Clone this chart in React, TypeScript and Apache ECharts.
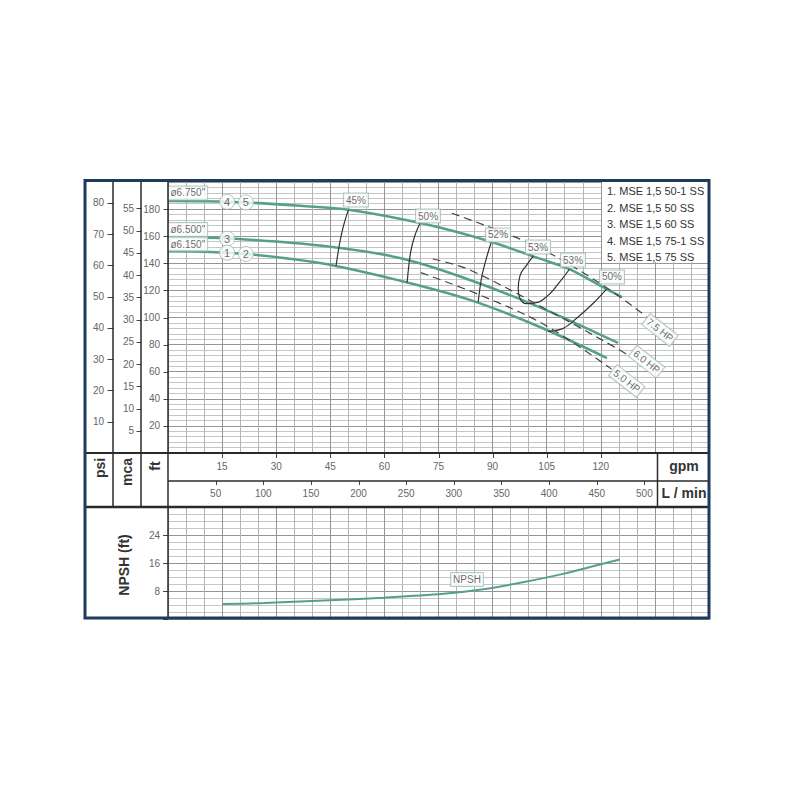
import React, { useEffect, useRef } from 'react';
import * as echarts from 'echarts';

const FONT = "'Liberation Sans', Arial, Helvetica, sans-serif";

// ---- axis ticks ----
const gpmTicks = [15, 30, 45, 60, 75, 90, 105, 120];
const lpmTicks = [50, 100, 150, 200, 250, 300, 350, 400, 450, 500];
const ftTicks = [20, 40, 60, 80, 100, 120, 140, 160, 180];
const mcaTicks = [5, 10, 15, 20, 25, 30, 35, 40, 45, 50, 55];
const psiTicks = [10, 20, 30, 40, 50, 60, 70, 80];
const npshTicks = [8, 16, 24];

// ---- ranges / unit conversions ----
const GPM_MAX = 150;
const FT_MAX = 200;
const NPSH_MAX = 32;
const LPM_PER_GPM = 3.78541;
const FT_PER_PSI = 2.30666;
const FT_PER_M = 3.28084;

// ---- head curves [gpm, ft] ----
const head675 = [[0, 186.0], [10, 185.8], [21.6, 184.9], [36.6, 182.4], [50.5, 179.4], [70.3, 169.5], [88.4, 156.8], [103.1, 143.4], [111.0, 136.0], [121.2, 121.5], [125.9, 115.1]];
const head650 = [[0, 159.4], [10, 158.9], [21.6, 157.6], [42.1, 153.1], [64.3, 143.9], [83.7, 127.7], [103.1, 107.5], [124.8, 81.2]];
const head615 = [[0, 149.1], [10, 148.6], [21.6, 146.9], [42.1, 140.2], [64.3, 127.2], [83.7, 113.0], [103.1, 93.0], [121.7, 70.1]];

// ---- efficiency iso-lines [gpm, ft] ----
const eff45 = [[50.0, 179.4], [48.6, 167.0], [47.5, 153.5], [46.6, 138.0]];
const eff50a = [[69.9, 169.8], [68.5, 160.9], [67.3, 148.6], [66.3, 125.8]];
const eff52 = [[89.6, 155.2], [88.4, 144.9], [87.0, 130.1], [86.0, 111.5]];
const eff53 = [[101.3, 145.5], [99.4, 138.5], [97.6, 130.9], [97.1, 121.2], [97.6, 114.0], [99.4, 110.2], [101.8, 110.8], [105.0, 115.4], [108.3, 125.2], [111.3, 135.6]];
const eff50b = [[121.6, 121.0], [117.9, 110.5], [113.3, 99.4], [109.6, 92.0], [105.4, 89.8]];

// ---- power lines [gpm, ft] ----
const hp75 = [[78.7, 176.9], [101.3, 153.5], [119.8, 125.2], [132.7, 100.6]];
const hp60 = [[73.4, 143.2], [83.7, 135.1], [107.8, 101.8], [124.4, 77.3], [127.5, 72.3]];
const hp50 = [[70.1, 133.1], [86.5, 116.6], [104.5, 94.5], [123.0, 61.9]];

// ---- NPSH [gpm, ft] ----
const npsh = [[15, 4.3], [26.6, 4.6], [43.2, 5.3], [59.8, 6.1], [76.4, 7.2], [87.4, 8.5], [98.4, 10.5], [109.5, 12.9], [120.6, 15.8], [125.3, 17.0]];

// ---- annotations ----
const effTagNames = ['45%', '50%', '52%', '53%', '53%', '50%'];
const effTagGpm = [52.1, 72.1, 91.5, 102.6, 112.3, 123.1];
const effTagFt = [186.7, 174.9, 160.9, 152.0, 142.4, 129.9];

const hpTagNames = ['7.5 HP', '6.0 HP', '5.0 HP'];
const hpTagGpm = [136.4, 132.7, 127.2];
const hpTagFt = [90.8, 67.4, 53.1];

const diamNames = ['ø6.750"', 'ø6.500"', 'ø6.150"'];
const diamFt = [191.9, 164.9, 154.2];

const modelNums = ['4', '5', '3', '1', '2'];
const modelGpm = [16.4, 21.6, 16.4, 16.4, 21.6];
const modelFt = [185.4, 184.9, 158.2, 147.8, 146.9];

const npshTag = { name: 'NPSH', gpm: 82.9, ft: 11.3 };

const legendLines = ['1. MSE 1,5 50-1 SS', '2. MSE 1,5 50 SS', '3. MSE 1,5 60 SS', '4. MSE 1,5 75-1 SS', '5. MSE 1,5 75 SS'];

// ---- styles ----
const GREEN = '#55a08d';
const TAG_BORDER = '#9dbdb2';
const TICK_COLOR = '#444';
const LABEL_COLOR = '#666';
const MAJOR = '#959595';
const MINOR_X = '#b4b4b4';
const MINOR_Y = '#c6c6c6';
const FRAME = '#203a5e';
const DARK = '#2a2a2a';

const tagLabel = {
  show: true,
  color: '#444',
  fontSize: 10,
  fontFamily: FONT,
  backgroundColor: '#fff',
  borderColor: TAG_BORDER,
  borderWidth: 1,
  padding: [2, 2, 1, 2],
  formatter: '{b}',
};

const lineSeries = (data: number[][], color: string, width: number, extra: any = {}) => ({
  type: 'line',
  data,
  symbol: 'none',
  smooth: 0.35,
  silent: true,
  xAxisIndex: 0,
  yAxisIndex: 0,
  lineStyle: { color, width },
  z: 3,
  ...extra,
});

const hiddenPoint = { symbolSize: 1, itemStyle: { color: 'rgba(0,0,0,0)' } };

const onlyTicks = (list: number[]) => (v: number) => (list.some((t) => Math.abs(t - v) < 1e-6) ? String(v) : '');

// tick marks drawn through the axis scales (custom series)
const yTickSeries = (yAxisIndex: number, values: number[], shift: number, len: number) => ({
  type: 'custom', xAxisIndex: 0, yAxisIndex, silent: true, clip: false, z: 7,
  data: values.map((v) => [0, v]),
  renderItem: (_p: any, api: any) => {
    const c = api.coord([0, api.value(1)]);
    const x = Math.round(c[0] - shift) + 0.5;
    const y = Math.round(c[1]) + 0.5;
    return { type: 'line', shape: { x1: x - len, y1: y, x2: x, y2: y }, style: { stroke: TICK_COLOR, lineWidth: 1 } };
  },
});
const xTickSeries = (xAxisIndex: number, values: number[], shift: number, len: number) => ({
  type: 'custom', xAxisIndex, yAxisIndex: 0, silent: true, clip: false, z: 7,
  data: values.map((v) => [v, 0]),
  renderItem: (_p: any, api: any) => {
    const c = api.coord([api.value(0), 0]);
    const x = Math.round(c[0]) + 0.5;
    const y = c[1] + shift;
    return { type: 'line', shape: { x1: x, y1: y, x2: x, y2: y + len }, style: { stroke: TICK_COLOR, lineWidth: 1 } };
  },
});

function buildOption() {
  const labelAxis = (extra: any, labels: number[], margin: number) => ({
    type: 'value',
    axisLine: { show: false },
    splitLine: { show: false },
    axisTick: { show: false },
    axisLabel: { color: LABEL_COLOR, fontSize: 10, fontFamily: FONT, margin, formatter: onlyTicks(labels) },
    ...extra,
  });

  const gridXAxis = (gridIndex: number) => ({
    type: 'value',
    gridIndex,
    min: 0,
    max: GPM_MAX,
    interval: 15,
    axisLine: { show: false },
    axisTick: { show: false },
    axisLabel: { show: false },
    splitLine: { show: true, lineStyle: { color: MAJOR, width: 1 } },
    minorTick: { show: false, splitNumber: 3 },
    minorSplitLine: { show: true, lineStyle: { color: MINOR_X, width: 1 } },
  });

  const vline = (x: number, y1: number, y2: number, w: number, c = DARK) => ({
    type: 'line', z: 60, silent: true,
    shape: { x1: x, y1, x2: x, y2 },
    style: { stroke: c, lineWidth: w },
  });
  const hline = (y: number, x1: number, x2: number, w: number, c = DARK) => ({
    type: 'line', z: 60, silent: true,
    shape: { x1, y1: y, x2, y2: y },
    style: { stroke: c, lineWidth: w },
  });
  const vtext = (text: string, x: number, y: number, size = 14) => ({
    type: 'text', z: 61, silent: true, x, y, rotation: Math.PI / 2,
    style: { text, align: 'center', verticalAlign: 'middle', fontSize: size, fontWeight: 'bold', fontFamily: FONT, fill: '#333' },
  });
  const htext = (text: string, x: number, y: number, size = 14) => ({
    type: 'text', z: 61, silent: true, x, y,
    style: { text, align: 'center', verticalAlign: 'middle', fontSize: size, fontWeight: 'bold', fontFamily: FONT, fill: '#333' },
  });

  return {
    animation: false,
    backgroundColor: '#fff',
    grid: [
      { left: 168, top: 182, width: 541, height: 271 },
      { left: 168, top: 507, width: 541, height: 112 },
    ],
    xAxis: [
      gridXAxis(0),
      labelAxis({ gridIndex: 0, position: 'bottom', offset: 28, min: 0, max: GPM_MAX * LPM_PER_GPM, interval: 50 }, lpmTicks, 7),
      gridXAxis(1),
      labelAxis({ gridIndex: 0, position: 'bottom', offset: 0, min: 0, max: GPM_MAX, interval: 15 }, gpmTicks, 8),
    ],
    yAxis: [
      {
        type: 'value', gridIndex: 0, position: 'left', offset: 0,
        min: 0, max: FT_MAX, interval: 20,
        axisLine: { show: false },
        axisTick: { show: false },
        axisLabel: { color: LABEL_COLOR, fontSize: 10, fontFamily: FONT, margin: 8, formatter: onlyTicks(ftTicks) },
        splitLine: { show: true, lineStyle: { color: MAJOR, width: 1 } },
        minorTick: { show: false, splitNumber: 5 },
        minorSplitLine: { show: true, lineStyle: { color: MINOR_Y, width: 1 } },
      },
      labelAxis({ gridIndex: 0, position: 'left', offset: 27, min: 0, max: FT_MAX / FT_PER_M, interval: 5 }, mcaTicks, 7),
      labelAxis({ gridIndex: 0, position: 'left', offset: 55, min: 0, max: FT_MAX / FT_PER_PSI, interval: 10 }, psiTicks, 9),
      {
        type: 'value', gridIndex: 1, position: 'left',
        min: 0, max: NPSH_MAX, interval: 8,
        axisLine: { show: false },
        axisTick: { show: true, length: 5, lineStyle: { color: TICK_COLOR } },
        axisLabel: { color: LABEL_COLOR, fontSize: 10, fontFamily: FONT, margin: 8, formatter: onlyTicks(npshTicks) },
        splitLine: { show: true, lineStyle: { color: MAJOR, width: 1 } },
        minorTick: { show: false, splitNumber: 4 },
        minorSplitLine: { show: true, lineStyle: { color: MINOR_Y, width: 1 } },
      },
    ],
    series: [
      lineSeries(head675, GREEN, 2.5),
      lineSeries(head650, GREEN, 2.5),
      lineSeries(head615, GREEN, 2.5),
      lineSeries(eff45, '#333', 1.2, { z: 4 }),
      lineSeries(eff50a, '#333', 1.2, { z: 4 }),
      lineSeries(eff52, '#333', 1.2, { z: 4 }),
      lineSeries(eff53, '#333', 1.2, { z: 4, smooth: 0.5 }),
      lineSeries(eff50b, '#333', 1.2, { z: 4 }),
      lineSeries(hp75, '#444', 1.2, { z: 4, lineStyle: { color: '#444', width: 1.2, type: [8, 5] } }),
      lineSeries(hp60, '#444', 1.2, { z: 4, lineStyle: { color: '#444', width: 1.2, type: [8, 5] } }),
      lineSeries(hp50, '#444', 1.2, { z: 4, lineStyle: { color: '#444', width: 1.2, type: [8, 5] } }),
      {
        type: 'line', xAxisIndex: 2, yAxisIndex: 3, data: npsh, symbol: 'none', smooth: 0.35, silent: true,
        lineStyle: { color: GREEN, width: 2 }, z: 3,
      },
      // tick marks
      yTickSeries(0, ftTicks, 0, 5),
      yTickSeries(1, mcaTicks, 27, 5),
      yTickSeries(2, psiTicks, 55, 6),
      xTickSeries(3, gpmTicks, 0, 5),
      xTickSeries(1, lpmTicks, 28, 4),
      // annotations
      {
        type: 'scatter', xAxisIndex: 0, yAxisIndex: 0, z: 6, silent: true, ...hiddenPoint,
        data: effTagNames.map((n, i) => ({ name: n, value: [effTagGpm[i], effTagFt[i]] })),
        label: { ...tagLabel, position: 'inside' },
      },
      {
        type: 'scatter', xAxisIndex: 0, yAxisIndex: 0, z: 6, silent: true, ...hiddenPoint,
        data: hpTagNames.map((n, i) => ({ name: n, value: [hpTagGpm[i], hpTagFt[i]] })),
        label: { ...tagLabel, position: 'inside', rotate: -38 },
      },
      {
        type: 'scatter', xAxisIndex: 0, yAxisIndex: 0, z: 6, silent: true, ...hiddenPoint,
        data: diamNames.map((n, i) => ({ name: n, value: [0, diamFt[i]] })),
        label: { ...tagLabel, position: 'right', distance: 0 },
      },
      {
        type: 'scatter', xAxisIndex: 0, yAxisIndex: 0, z: 6, silent: true,
        symbol: 'circle', symbolSize: 15,
        itemStyle: { color: '#fff', borderColor: TAG_BORDER, borderWidth: 1 },
        data: modelNums.map((n, i) => ({ name: n, value: [modelGpm[i], modelFt[i]] })),
        label: { show: true, position: 'inside', formatter: '{b}', color: '#444', fontSize: 11, fontFamily: FONT },
      },
      {
        type: 'scatter', xAxisIndex: 2, yAxisIndex: 3, z: 6, silent: true, ...hiddenPoint,
        data: [{ name: npshTag.name, value: [npshTag.gpm, npshTag.ft] }],
        label: { ...tagLabel, position: 'inside' },
      },
    ],
    graphic: [
      // legend box
      { type: 'rect', z: 55, silent: true, shape: { x: 602, y: 182, width: 107, height: 80 }, style: { fill: '#fff' } },
      ...legendLines.map((t, i) => ({
        type: 'text', z: 56, silent: true, x: 607, y: 191 + i * 16.5,
        style: { text: t, align: 'left', verticalAlign: 'middle', fontSize: 11, fontFamily: FONT, fill: '#333' },
      })),
      // structural lines
      vline(113, 181, 507, 1.5),
      vline(141, 181, 507, 1.5),
      vline(168, 181, 619, 1.5),
      vline(657.5, 453, 507, 1.5),
      hline(453, 85, 709, 2),
      hline(481, 168, 709, 1.5),
      hline(507, 85, 709, 2.5),
      // frame
      { type: 'rect', z: 62, silent: true, shape: { x: 85, y: 180.5, width: 624, height: 437.5 }, style: { fill: 'none', stroke: FRAME, lineWidth: 3 } },
      // band labels
      vtext('psi', 100, 468),
      vtext('mca', 127, 472),
      vtext('ft', 155, 466),
      htext('gpm', 684, 466),
      htext('L / min', 684, 493),
      vtext('NPSH (ft)', 124, 565),
    ],
  };
}

export default function App() {
  const ref = useRef<HTMLDivElement>(null);
  useEffect(() => {
    if (!ref.current) return;
    const chart = echarts.init(ref.current, undefined, { renderer: 'svg' });
    chart.setOption(buildOption() as any);
    return () => chart.dispose();
  }, []);
  return <div ref={ref} style={{ position: 'absolute', left: 0, top: 0, width: 800, height: 800 }} />;
}
